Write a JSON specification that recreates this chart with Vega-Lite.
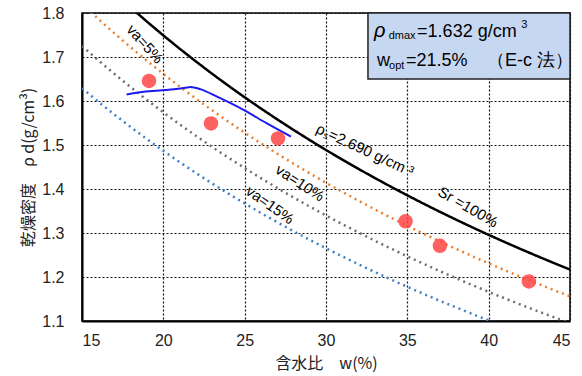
{
  "$schema": "https://vega.github.io/schema/vega-lite/v6.json",
  "width": 488,
  "height": 308,
  "autosize": "none",
  "padding": {"left": 82, "top": 13, "right": 12, "bottom": 55},
  "config": {
    "view": {"stroke": "#000", "strokeWidth": 1.5},
    "axis": {
      "labelFont": "Liberation Sans", "labelFontSize": 16, "labelColor": "#222",
      "titleFont": "Noto Sans CJK JP", "titleFontSize": 16, "titleFontWeight": "normal", "titleColor": "#222",
      "grid": true, "gridColor": "#111", "gridDash": [2, 2], "gridWidth": 1.2,
      "ticks": false, "domainColor": "#000", "domainWidth": 2
    }
  },
  "datasets": {
    "curves": [
      {"w": 18, "rho": 1.81243, "curve": "Sr100"}, {"w": 19, "rho": 1.78016, "curve": "Sr100"}, {"w": 20, "rho": 1.74903, "curve": "Sr100"}, {"w": 21, "rho": 1.71896, "curve": "Sr100"}, {"w": 22, "rho": 1.68991, "curve": "Sr100"}, {"w": 23, "rho": 1.66183, "curve": "Sr100"}, {"w": 24, "rho": 1.63467, "curve": "Sr100"}, {"w": 25, "rho": 1.60837, "curve": "Sr100"}, {"w": 26, "rho": 1.58291, "curve": "Sr100"}, {"w": 27, "rho": 1.55825, "curve": "Sr100"}, {"w": 28, "rho": 1.53434, "curve": "Sr100"}, {"w": 29, "rho": 1.51115, "curve": "Sr100"}, {"w": 30, "rho": 1.48866, "curve": "Sr100"}, {"w": 31, "rho": 1.46683, "curve": "Sr100"}, {"w": 32, "rho": 1.44562, "curve": "Sr100"}, {"w": 33, "rho": 1.42502, "curve": "Sr100"}, {"w": 34, "rho": 1.405, "curve": "Sr100"}, {"w": 35, "rho": 1.38553, "curve": "Sr100"}, {"w": 36, "rho": 1.3666, "curve": "Sr100"}, {"w": 37, "rho": 1.34818, "curve": "Sr100"}, {"w": 38, "rho": 1.33023, "curve": "Sr100"}, {"w": 39, "rho": 1.31277, "curve": "Sr100"}, {"w": 40, "rho": 1.29576, "curve": "Sr100"}, {"w": 41, "rho": 1.27918, "curve": "Sr100"}, {"w": 42, "rho": 1.26302, "curve": "Sr100"}, {"w": 43, "rho": 1.24727, "curve": "Sr100"}, {"w": 44, "rho": 1.23191, "curve": "Sr100"}, {"w": 45, "rho": 1.21693, "curve": "Sr100"},
      {"w": 15, "rho": 1.82081, "curve": "va5"}, {"w": 16, "rho": 1.78657, "curve": "va5"}, {"w": 17, "rho": 1.75359, "curve": "va5"}, {"w": 18, "rho": 1.72181, "curve": "va5"}, {"w": 19, "rho": 1.69115, "curve": "va5"}, {"w": 20, "rho": 1.66158, "curve": "va5"}, {"w": 21, "rho": 1.63301, "curve": "va5"}, {"w": 22, "rho": 1.60541, "curve": "va5"}, {"w": 23, "rho": 1.57874, "curve": "va5"}, {"w": 24, "rho": 1.55294, "curve": "va5"}, {"w": 25, "rho": 1.52795, "curve": "va5"}, {"w": 26, "rho": 1.50376, "curve": "va5"}, {"w": 27, "rho": 1.48034, "curve": "va5"}, {"w": 28, "rho": 1.45762, "curve": "va5"}, {"w": 29, "rho": 1.43559, "curve": "va5"}, {"w": 30, "rho": 1.41423, "curve": "va5"}, {"w": 31, "rho": 1.39349, "curve": "va5"}, {"w": 32, "rho": 1.37334, "curve": "va5"}, {"w": 33, "rho": 1.35377, "curve": "va5"}, {"w": 34, "rho": 1.33475, "curve": "va5"}, {"w": 35, "rho": 1.31625, "curve": "va5"}, {"w": 36, "rho": 1.29827, "curve": "va5"}, {"w": 37, "rho": 1.28077, "curve": "va5"}, {"w": 38, "rho": 1.26372, "curve": "va5"}, {"w": 39, "rho": 1.24713, "curve": "va5"}, {"w": 40, "rho": 1.23097, "curve": "va5"}, {"w": 41, "rho": 1.21522, "curve": "va5"}, {"w": 42, "rho": 1.19987, "curve": "va5"}, {"w": 43, "rho": 1.18491, "curve": "va5"}, {"w": 44, "rho": 1.17031, "curve": "va5"}, {"w": 45, "rho": 1.15608, "curve": "va5"},
      {"w": 15, "rho": 1.72498, "curve": "va10"}, {"w": 16, "rho": 1.69254, "curve": "va10"}, {"w": 17, "rho": 1.66129, "curve": "va10"}, {"w": 18, "rho": 1.63119, "curve": "va10"}, {"w": 19, "rho": 1.60214, "curve": "va10"}, {"w": 20, "rho": 1.57413, "curve": "va10"}, {"w": 21, "rho": 1.54706, "curve": "va10"}, {"w": 22, "rho": 1.52092, "curve": "va10"}, {"w": 23, "rho": 1.49565, "curve": "va10"}, {"w": 24, "rho": 1.4712, "curve": "va10"}, {"w": 25, "rho": 1.44753, "curve": "va10"}, {"w": 26, "rho": 1.42462, "curve": "va10"}, {"w": 27, "rho": 1.40243, "curve": "va10"}, {"w": 28, "rho": 1.38091, "curve": "va10"}, {"w": 29, "rho": 1.36004, "curve": "va10"}, {"w": 30, "rho": 1.33979, "curve": "va10"}, {"w": 31, "rho": 1.32015, "curve": "va10"}, {"w": 32, "rho": 1.30106, "curve": "va10"}, {"w": 33, "rho": 1.28252, "curve": "va10"}, {"w": 34, "rho": 1.2645, "curve": "va10"}, {"w": 35, "rho": 1.24698, "curve": "va10"}, {"w": 36, "rho": 1.22994, "curve": "va10"}, {"w": 37, "rho": 1.21336, "curve": "va10"}, {"w": 38, "rho": 1.19721, "curve": "va10"}, {"w": 39, "rho": 1.18149, "curve": "va10"}, {"w": 40, "rho": 1.16618, "curve": "va10"}, {"w": 41, "rho": 1.15126, "curve": "va10"}, {"w": 42, "rho": 1.13672, "curve": "va10"}, {"w": 43, "rho": 1.12254, "curve": "va10"}, {"w": 44, "rho": 1.10872, "curve": "va10"}, {"w": 45, "rho": 1.09524, "curve": "va10"},
      {"w": 15, "rho": 1.62914, "curve": "va15"}, {"w": 16, "rho": 1.59851, "curve": "va15"}, {"w": 17, "rho": 1.569, "curve": "va15"}, {"w": 18, "rho": 1.54057, "curve": "va15"}, {"w": 19, "rho": 1.51314, "curve": "va15"}, {"w": 20, "rho": 1.48668, "curve": "va15"}, {"w": 21, "rho": 1.46112, "curve": "va15"}, {"w": 22, "rho": 1.43642, "curve": "va15"}, {"w": 23, "rho": 1.41256, "curve": "va15"}, {"w": 24, "rho": 1.38947, "curve": "va15"}, {"w": 25, "rho": 1.36711, "curve": "va15"}, {"w": 26, "rho": 1.34547, "curve": "va15"}, {"w": 27, "rho": 1.32451, "curve": "va15"}, {"w": 28, "rho": 1.30419, "curve": "va15"}, {"w": 29, "rho": 1.28448, "curve": "va15"}, {"w": 30, "rho": 1.26536, "curve": "va15"}, {"w": 31, "rho": 1.24681, "curve": "va15"}, {"w": 32, "rho": 1.22878, "curve": "va15"}, {"w": 33, "rho": 1.21127, "curve": "va15"}, {"w": 34, "rho": 1.19425, "curve": "va15"}, {"w": 35, "rho": 1.1777, "curve": "va15"}, {"w": 36, "rho": 1.16161, "curve": "va15"}, {"w": 37, "rho": 1.14595, "curve": "va15"}, {"w": 38, "rho": 1.1307, "curve": "va15"}, {"w": 39, "rho": 1.11585, "curve": "va15"}, {"w": 40, "rho": 1.1014, "curve": "va15"}, {"w": 41, "rho": 1.0873, "curve": "va15"}
    ],
    "fit": [
      {"w": 17.74, "rho": 1.615}, {"w": 18.79, "rho": 1.621}, {"w": 20.2, "rho": 1.625}, {"w": 21.35, "rho": 1.630}, {"w": 21.66, "rho": 1.632}, {"w": 22.27, "rho": 1.627}, {"w": 23.3, "rho": 1.61}, {"w": 24.93, "rho": 1.58}, {"w": 26.37, "rho": 1.549}, {"w": 27.85, "rho": 1.519}
    ],
    "points": [
      {"w": 19.12, "rho": 1.6455}, {"w": 22.93, "rho": 1.549}, {"w": 27.05, "rho": 1.515}, {"w": 34.89, "rho": 1.3266}, {"w": 37.0, "rho": 1.271}, {"w": 42.47, "rho": 1.19}
    ],
    "curveLabels": [
      {"w": 18.87, "rho": 1.7295, "label": "va=5%", "angle": 48},
      {"w": 28.4, "rho": 1.4136, "label": "va=10%", "angle": 33},
      {"w": 26.56, "rho": 1.3636, "label": "va=15%", "angle": 35},
      {"w": 32.4, "rho": 1.4886, "label": "ρₛ=2.690 g/cm ³", "angle": 25},
      {"w": 38.73, "rho": 1.359, "label": "Sr =100%", "angle": 30}
    ],
    "boxBig": [
      {"w": 35.6, "rho": 1.7455, "t": "=1.632 g/cm"},
      {"w": 33.13, "rho": 1.6795, "t": "w"},
      {"w": 34.92, "rho": 1.6795, "t": "=21.5%"},
      {"w": 39.9, "rho": 1.6795, "t": "（E-c 法）"}
    ],
    "boxRho": [
      {"w": 32.95, "rho": 1.7455, "t": "ρ"}
    ],
    "boxSmall": [
      {"w": 33.85, "rho": 1.741, "t": "dmax"},
      {"w": 42.0, "rho": 1.766, "t": "3"},
      {"w": 33.88, "rho": 1.6727, "t": "opt"}
    ]
  },
  "encoding": {
    "x": {"field": "w", "type": "quantitative", "scale": {"domain": [15, 45], "nice": false}, "axis": {"values": [15, 20, 25, 30, 35, 40, 45], "title": "含水比　w(%)", "labelPadding": 11, "titlePadding": 7}},
    "y": {"field": "rho", "type": "quantitative", "scale": {"domain": [1.1, 1.8], "nice": false, "zero": false}, "axis": {"values": [1.1, 1.2, 1.3, 1.4, 1.5, 1.6, 1.7, 1.8], "format": ".1f", "title": "乾燥密度　ρ d(g/cm³)", "labelPadding": 18, "titlePadding": 5}}
  },
  "layer": [
    {
      "data": {"name": "curves"},
      "mark": {"type": "line", "clip": true, "strokeWidth": 2.5},
      "encoding": {
        "color": {"field": "curve", "type": "nominal", "scale": {"domain": ["Sr100", "va5", "va10", "va15"], "range": ["#000000", "#E8802F", "#6E6E6E", "#3F7FC4"]}, "legend": null},
        "strokeDash": {"field": "curve", "type": "nominal", "scale": {"domain": ["Sr100", "va5", "va10", "va15"], "range": [[1, 0], [2, 4], [2, 4], [2, 4]]}, "legend": null}
      }
    },
    {
      "data": {"name": "fit"},
      "mark": {"type": "line", "interpolate": "monotone", "color": "#1A1AF0", "strokeWidth": 2}
    },
    {
      "data": {"name": "points"},
      "mark": {"type": "point", "filled": true, "shape": "circle", "size": 210, "color": "#FF4444", "opacity": 0.85}
    },
    {
      "data": {"name": "curveLabels"},
      "mark": {"type": "text", "font": "Liberation Sans", "fontSize": 15, "color": "#000", "align": "center", "baseline": "middle"},
      "encoding": {"text": {"field": "label"}, "angle": {"field": "angle", "type": "quantitative", "scale": null}}
    },
    {
      "data": {"values": [{"w": 32.58, "w2": 45, "rho": 1.8, "rho2": 1.65}]},
      "mark": {"type": "rect", "fill": "#C6D7F2", "stroke": "#222", "strokeWidth": 1.5},
      "encoding": {"x2": {"field": "w2"}, "y2": {"field": "rho2"}}
    },
    {
      "data": {"name": "boxBig"},
      "mark": {"type": "text", "font": "Liberation Sans", "fontSize": 18, "color": "#000", "align": "left", "baseline": "alphabetic"},
      "encoding": {"text": {"field": "t"}}
    },
    {
      "data": {"name": "boxRho"},
      "mark": {"type": "text", "font": "Liberation Sans", "fontSize": 20, "fontStyle": "italic", "color": "#000", "align": "left", "baseline": "alphabetic"},
      "encoding": {"text": {"field": "t"}}
    },
    {
      "data": {"name": "boxSmall"},
      "mark": {"type": "text", "font": "Liberation Sans", "fontSize": 11, "color": "#000", "align": "left", "baseline": "alphabetic"},
      "encoding": {"text": {"field": "t"}}
    }
  ]
}
